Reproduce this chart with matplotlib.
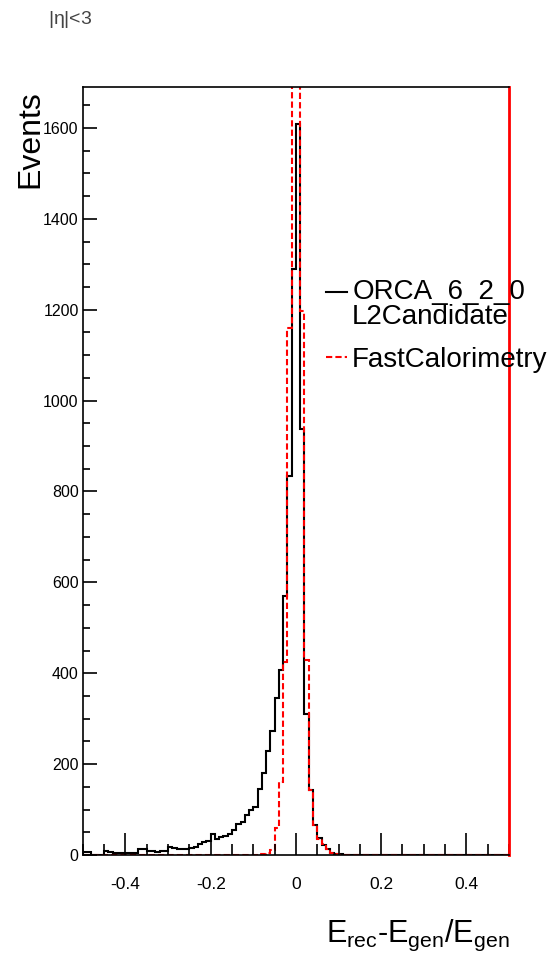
import numpy as np
import matplotlib
matplotlib.use("Agg")
import matplotlib.pyplot as plt
from matplotlib.ticker import MultipleLocator
from matplotlib.legend_handler import HandlerStepPatch

plt.rcParams['font.family'] = ['Liberation Sans', 'DejaVu Sans']
plt.rcParams['mathtext.fontset'] = 'custom'
plt.rcParams['mathtext.rm'] = 'Liberation Sans'
plt.rcParams['mathtext.it'] = 'Liberation Sans'

# 100 bins between -0.5 and 0.5
bin_edges = np.linspace(-0.5, 0.5, 101)

# ORCA_6_2_0 L2Candidate (black, solid)
orca_counts = [
    6, 6, 1, 1, 1, 9, 7, 5, 5, 4,
    5, 4, 5, 13, 14, 8, 8, 7, 8, 9,
    17, 15, 14, 14, 13, 16, 18, 25, 28, 30,
    46, 36, 40, 42, 46, 55, 68, 72, 88, 100,
    105, 145, 180, 229, 272, 345, 407, 571, 835, 1290,
    1609, 938, 311, 143, 66, 37, 22, 13, 5, 3,
    2, 1, 0, 0, 0, 0, 0, 0, 0, 0,
    0, 0, 0, 0, 0, 0, 0, 0, 0, 0,
    0, 0, 0, 0, 0, 0, 0, 0, 0, 0,
    0, 0, 0, 0, 0, 0, 0, 0, 0, 0,
]

# FastCalorimetry (red, dashed)
fast_counts = [
    0, 0, 0, 0, 0, 0, 0, 0, 0, 0,
    0, 0, 0, 0, 0, 0, 0, 0, 0, 0,
    0, 0, 0, 0, 0, 0, 0, 0, 0, 0,
    0, 0, 0, 0, 0, 0, 0, 0, 1, 1,
    1, 2, 3, 4, 11, 59, 161, 425, 1160, 3000,
    3050, 1198, 429, 143, 66, 35, 25, 13, 5, 2,
    1, 0, 0, 0, 0, 0, 0, 0, 0, 0,
    0, 0, 0, 0, 0, 0, 0, 0, 0, 0,
    0, 0, 0, 0, 0, 0, 0, 0, 0, 0,
    0, 0, 0, 0, 0, 0, 0, 0, 0, 0,
]

fig = plt.figure(figsize=(5.56, 9.55), dpi=100)
ax = fig.add_axes([0.149, 0.1047, 0.7665, 0.8042])

h_orca = ax.stairs(orca_counts, bin_edges, baseline=0, color='black', lw=1.5,
                   label='ORCA_6_2_0\nL2Candidate')
ax.stairs(fast_counts, bin_edges, baseline=0, color='red', lw=1.5,
          linestyle=(0, (3, 1.5)), label='FastCalorimetry')

ax.set_xlim(-0.5, 0.5)
ax.set_ylim(0, 1690)

ax.xaxis.set_minor_locator(MultipleLocator(0.05))
ax.yaxis.set_major_locator(MultipleLocator(200))
ax.yaxis.set_minor_locator(MultipleLocator(50))
ax.set_xticks([-0.4, -0.2, 0, 0.2, 0.4])
ax.set_xticklabels(['-0.4', '-0.2', '0', '0.2', '0.4'])

ax.tick_params(axis='x', which='major', direction='in', length=16, width=1.2,
               pad=16, labelsize=12.5)
ax.tick_params(axis='x', which='minor', direction='in', length=8, width=1.2)
ax.tick_params(axis='y', which='major', direction='in', length=10, width=1.2,
               pad=3, labelsize=11.5)
ax.tick_params(axis='y', which='minor', direction='in', length=5, width=1.2)

for s in ['top', 'bottom', 'left']:
    ax.spines[s].set_linewidth(1.2)
ax.spines['right'].set_color('red')
ax.spines['right'].set_linewidth(2)

# black sample sits on the first line of the two-line label
leg = ax.legend(loc='upper left', bbox_to_anchor=(0.57, 0.75), frameon=False,
                fontsize=20, handlelength=0.75, handletextpad=0.2,
                borderpad=0, borderaxespad=0, labelspacing=0.6,
                handler_map={h_orca: HandlerStepPatch(ypad=-0.9)})
leg.get_texts()[0].set_linespacing(0.95)

fig.text(30 / 556, 1 - 139 / 955, 'Events', rotation=90, ha='center',
         va='center', fontsize=23)
fig.text(510 / 556, 1 - 942 / 955,
         r'$\mathrm{E_{rec}}$-$\mathrm{E_{gen}/E_{gen}}$',
         ha='right', va='baseline', fontsize=22)
fig.text(48 / 556, 1 - 20 / 955, r'|$\eta$|<3', ha='left', va='center',
         fontsize=14, color='#444444')

fig.savefig('out.png', dpi=100)
